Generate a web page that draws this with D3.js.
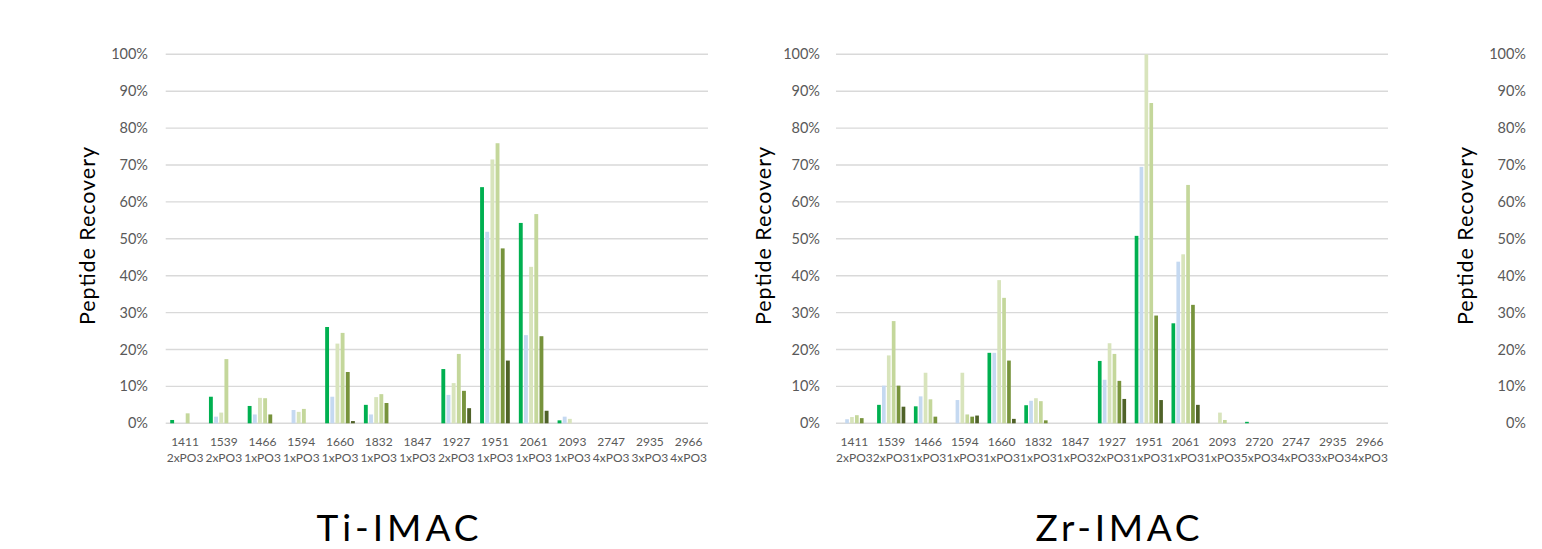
<!DOCTYPE html>
<html><head><meta charset="utf-8">
<script src="https://cdn.jsdelivr.net/npm/d3@7"></script>
<style>body{margin:0;background:#fff;} svg{display:block;}</style>
</head><body>
<svg id="c" width="1542" height="549"></svg>
<script>
// ---- data ----
const seriesNames = ["S1","S2","S3","S4","S5","S6"];
const seriesColors = ["#00B050","#C5D9F1","#D8E4BC","#C4D79B","#77933C","#4F6228"];
const yTicks = [0,0.1,0.2,0.3,0.4,0.5,0.6,0.7,0.8,0.9,1.0];

const tiMass = ["1411","1539","1466","1594","1660","1832","1847","1927","1951","2061","2093","2747","2935","2966"];
const tiPhos = ["2xPO3","2xPO3","1xPO3","1xPO3","1xPO3","1xPO3","1xPO3","2xPO3","1xPO3","1xPO3","1xPO3","4xPO3","3xPO3","4xPO3"];
const tiS1 = [0.9,7.2,4.7,0,26.1,5.0,0,14.7,64.0,54.3,0.8,0,0,0];
const tiS2 = [0,1.8,2.4,3.6,7.2,2.4,0,7.7,51.9,23.9,1.8,0,0,0];
const tiS3 = [0,2.9,6.9,3.1,21.6,7.1,0,10.9,71.5,42.4,1.2,0,0,0];
const tiS4 = [2.7,17.4,6.8,3.9,24.5,7.9,0,18.8,75.9,56.7,0,0,0,0];
const tiS5 = [0,0,2.4,0,13.9,5.5,0,8.8,47.4,23.6,0,0,0,0];
const tiS6 = [0,0,0,0,0.6,0,0,4.1,17.0,3.4,0,0,0,0];

const zrMass = ["1411","1539","1466","1594","1660","1832","1847","1927","1951","2061","2093","2720","2747","2935","2966"];
const zrPhos = ["2xPO3","2xPO3","1xPO3","1xPO3","1xPO3","1xPO3","1xPO3","2xPO3","1xPO3","1xPO3","1xPO3","5xPO3","4xPO3","3xPO3","4xPO3"];
const zrS1 = [0,5.0,4.6,0,19.1,4.9,0,16.9,50.8,27.1,0,0.4,0,0,0];
const zrS2 = [1.1,10.2,7.3,6.3,19.1,6.1,0,11.8,69.5,43.8,0,0,0,0,0];
const zrS3 = [1.7,18.4,13.7,13.7,38.8,6.8,0,21.7,100,45.8,2.9,0,0,0,0];
const zrS4 = [2.2,27.7,6.5,2.4,34.0,6.0,0,18.8,86.8,64.6,0.9,0,0,0,0];
const zrS5 = [1.4,10.2,1.8,1.8,17.0,0.8,0,11.5,29.2,32.1,0,0,0,0,0];
const zrS6 = [0,4.5,0,2.1,1.2,0,0,6.6,6.3,5.0,0,0,0,0,0];

const panelTitles = ["Ti-IMAC","Zr-IMAC"];
const yTitle = "Peptide Recovery";

// ---- drawing ----
const svg = d3.select("#c");
const FONT = "Lato, 'Open Sans', sans-serif";
const yTop = 54.3, yBase = 423.3;

function panel(cfg){
  const g = svg.append("g");
  const y = d3.scaleLinear().domain([0,1]).range([yBase,yTop]);
  // y tick labels
  g.selectAll("text.yt").data(yTicks).join("text")
    .attr("x", cfg.labelRight).attr("y", d=>y(d)).attr("dy","0.35em")
    .attr("text-anchor","end").attr("font-family",FONT).attr("font-size",14.5)
    .attr("fill","#595959").text(d3.format(".0%"));
  g.append("text").attr("transform",`translate(${cfg.titleX},${236}) rotate(-90)`)
    .attr("text-anchor","middle").attr("dy","0.35em").attr("font-family",FONT).attr("font-size",21.5)
    .attr("textLength",178).attr("lengthAdjust","spacing")
    .attr("fill","#000").text(yTitle);
  if(!cfg.mass) return;
  // gridlines
  g.selectAll("line.grid").data(yTicks).join("line")
    .attr("x1",cfg.x0).attr("x2",cfg.x1).attr("y1",d=>y(d)).attr("y2",d=>y(d))
    .attr("stroke","#D9D9D9").attr("stroke-width",1.4);
  const x0 = d3.scaleBand().domain(d3.range(cfg.mass.length)).range([cfg.x0,cfg.x1])
    .paddingInner(0.2).paddingOuter(0.1);
  const x1 = d3.scaleBand().domain(seriesNames).range([0,x0.bandwidth()])
    .paddingInner(0.25).paddingOuter(0.125);
  const rows = cfg.mass.map((m,i)=>({i, vals: cfg.series.map((s,k)=>({k, name:seriesNames[k], v:s[i]/100}))}));
  const cg = g.selectAll("g.cat").data(rows).join("g").attr("transform",d=>`translate(${x0(d.i)},0)`);
  cg.selectAll("rect").data(d=>d.vals.filter(v=>v.v>0)).join("rect")
    .attr("x",d=>x1(d.name)).attr("width",x1.bandwidth())
    .attr("y",d=>y(d.v)).attr("height",d=>yBase-y(d.v))
    .attr("fill",d=>seriesColors[d.k]);
  // category labels
  const step = x0.step();
  const lab = g.selectAll("text.cl").data(cfg.mass).join("text")
    .attr("text-anchor","middle").attr("font-family",FONT).attr("font-size",12).attr("fill","#595959");
  lab.append("tspan").attr("x",(d,i)=>cfg.x0+step*(i+0.5)).attr("y",446).text(d=>d);
  lab.append("tspan").attr("x",(d,i)=>cfg.x0+step*(i+0.5)).attr("y",462).text((d,i)=>cfg.phos[i]);
  // panel title
  g.append("text").attr("x",cfg.titleCX).attr("y",540.5).attr("text-anchor","middle")
    .attr("font-family",FONT).attr("font-size",37).attr("fill","#000")
    .attr("textLength",cfg.titleW).attr("lengthAdjust","spacing").text(cfg.title);
}

panel({x0:165.7,x1:708,labelRight:148,titleX:87,mass:tiMass,phos:tiPhos,
  series:[tiS1,tiS2,tiS3,tiS4,tiS5,tiS6],title:panelTitles[0],titleCX:397.5,titleW:162});
panel({x0:836,x1:1388,labelRight:820,titleX:763,mass:zrMass,phos:zrPhos,
  series:[zrS1,zrS2,zrS3,zrS4,zrS5,zrS6],title:panelTitles[1],titleCX:1117.5,titleW:164});
panel({labelRight:1526,titleX:1465});
</script>
</body></html>
